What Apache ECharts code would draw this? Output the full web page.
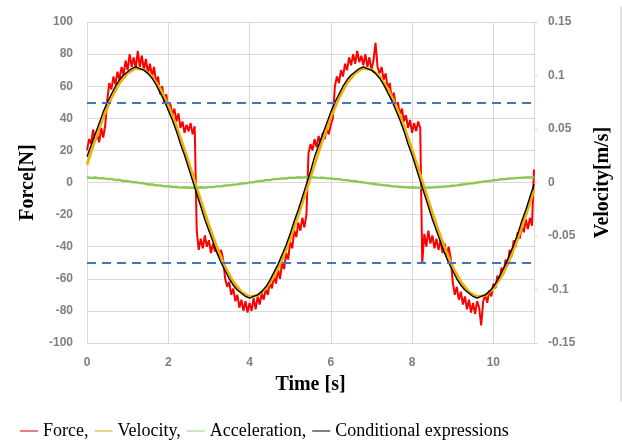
<!DOCTYPE html>
<html>
<head>
<meta charset="utf-8">
<script src="https://cdn.jsdelivr.net/npm/echarts@6/dist/echarts.min.js"></script>
<style>html,body{margin:0;padding:0;background:#fff;}#c{width:622px;height:441px;}</style>
</head>
<body>
<div id="c"></div>
<script>
// ---- data ----
const timeRange = [0, 11];
const xTicks = [0, 2, 4, 6, 8, 10];
const forceTicks = [-100, 100, 20];
const velTicks = [-0.15, 0.15, 0.05];
const thresholds = [50, -50];
const seriesNames = ['Force', 'Velocity', 'Acceleration', 'Conditional expressions'];

// Force [N], sampled every 0.05 s
const force = [
  20, 27, 24, 33, 26, 30, 25, 34, 28, 36,
  52, 62, 58, 66, 61, 69, 64, 72, 67, 76,
  70, 80, 72, 78, 71, 82, 72, 79, 70, 77,
  68, 74, 66, 72, 62, 66, 55, 60, 50, 55,
  45, 49, 42, 46, 38, 43, 34, 38, 31, 36,
  32, 37, 30, 35, -30, -42, -35, -41, -33, -40,
  -36, -44, -38, -43, -40, -46, -42, -48, -60, -65,
  -62, -70, -66, -74, -70, -78, -73, -80, -74, -81,
  -75, -80, -72, -79, -71, -76, -69, -73, -66, -70,
  -62, -66, -58, -63, -54, -60, -50, -54, -44, -48,
  -37, -41, -30, -34, -25, -30, -22, -28, -20, 18,
  24, 20, 27, 22, 29, 24, 31, 27, 34, 30,
  36, 40, 60, 66, 62, 70, 66, 74, 70, 78,
  73, 80, 74, 82, 75, 79, 73, 80, 72, 78,
  70, 76, 87, 72, 68, 72, 64, 68, 58, 62,
  52, 56, 47, 50, 42, 46, 38, 42, 34, 39,
  31, 37, 32, 38, 34, -50, -32, -40, -30, -38,
  -33, -41, -35, -42, -36, -44, -38, -46, -40, -47,
  -62, -70, -65, -73, -68, -76, -71, -79, -73, -81,
  -75, -82, -74, -78, -89, -74, -70, -75, -67, -71,
  -63, -66, -58, -61, -53, -57, -48, -52, -42, -46,
  -36, -40, -31, -35, -27, -31, -23, -29, -22, -27,
  8
];

// Velocity [m/s], sampled every 0.2 s
const velocity = [
  0.0167, 0.0398, 0.0609, 0.0788, 0.0930, 0.1023, 0.1067, 0.1055, 0.0992, 0.0879,
  0.0722, 0.0529, 0.0307, 0.0072, -0.0167, -0.0398, -0.0609, -0.0788, -0.0930, -0.1023,
  -0.1067, -0.1055, -0.0992, -0.0879, -0.0722, -0.0529, -0.0307, -0.0072,
  0.0167, 0.0398, 0.0609, 0.0788, 0.0930, 0.1023, 0.1067, 0.1055, 0.0992, 0.0879,
  0.0722, 0.0529, 0.0307, 0.0072, -0.0167, -0.0398, -0.0609, -0.0788, -0.0930, -0.1023,
  -0.1067, -0.1055, -0.0992, -0.0879, -0.0722, -0.0529, -0.0307, -0.0072
];

// Acceleration (plotted on force scale), sampled every 0.1 s
const acceleration = [
  3.3, 2.9, 3.1, 2.6, 2.7, 2.1, 2.2, 1.6, 1.6, 0.9,
  0.9, 0.3, 0.2, -0.4, -0.5, -1.2, -1.2, -1.8, -1.8, -2.4,
  -2.3, -2.8, -2.7, -3.2, -3.0, -3.3, -3.1, -3.3, -3.0, -3.2,
  -2.8, -2.9, -2.4, -2.4, -1.9, -1.8, -1.3, -1.2, -0.6, -0.5,
  0.1, 0.2, 0.8, 0.9, 1.5, 1.5, 2.1, 2.1, 2.6, 2.5,
  3.0, 2.9, 3.3, 3.0, 3.4, 3.1,
  3.2, 2.9, 3.0, 2.6, 2.6, 2.2, 2.1, 1.6, 1.5, 1.0,
  0.8, 0.3, 0.1, -0.4, -0.6, -1.1, -1.3, -1.7, -1.9, -2.3,
  -2.4, -2.8, -2.8, -3.1, -3.0, -3.3, -3.2, -3.2, -3.1, -3.1,
  -2.8, -2.8, -2.5, -2.3, -2.0, -1.8, -1.4, -1.1, -0.7, -0.5,
  0.0, 0.3, 0.7, 0.9, 1.4, 1.6, 2.0, 2.2, 2.5, 2.6,
  2.9, 3.0, 3.2, 3.1, 3.3
];

// Conditional expressions [N], sampled every 0.1 s
const conditional = [
  16, 23, 30, 37, 44, 50, 55, 60, 64, 67,
  69, 71, 72, 71, 70, 68, 65, 61, 56, 51,
  45, 39, 32, 24, 17, 9, 1, -7, -15, -23,
  -30, -37, -44, -50, -55, -60, -64, -67, -69, -71,
  -72, -71, -70, -68, -65, -61, -56, -51, -45, -39,
  -32, -24, -17, -9, -1, 7,
  16, 23, 30, 37, 44, 50, 55, 60, 64, 67,
  69, 71, 72, 71, 70, 68, 65, 61, 56, 51,
  45, 39, 32, 24, 17, 9, 1, -7, -15, -23,
  -30, -37, -44, -50, -55, -60, -64, -67, -69, -71,
  -72, -71, -70, -68, -65, -61, -56, -51, -45, -39,
  -32, -24, -17, -9, -1
];

// ---- build ----
function withTime(arr) {
  const step = (timeRange[1] - timeRange[0]) / (arr.length - 1);
  return arr.map((v, i) => [+(timeRange[0] + i * step).toFixed(4), v]);
}

const colors = ['#ff0000', '#f0b000', '#8cc850', '#000000'];
const legendColors = ['#f47a7a', '#f3d58a', '#c9e8b2', '#808080'];
const gridColor = '#d9d9d9';
const labelStyle = { color: '#7f7f7f', fontFamily: 'Liberation Sans', fontWeight: 'bold', fontSize: 12 };
const nameStyle = { color: '#000', fontFamily: 'Liberation Serif', fontWeight: 'bold', fontSize: 20 };

const chart = echarts.init(document.getElementById('c'), null, { renderer: 'canvas' });
chart.setOption({
  animation: false,
  backgroundColor: '#fff',
  grid: { left: 87, right: 88, top: 22, bottom: 98, containLabel: false },
  legend: {
    left: 15, top: 416,
    itemWidth: 18, itemHeight: 2, itemGap: 6,
    icon: 'rect',
    textStyle: { fontFamily: 'Liberation Serif', fontSize: 18, color: '#000', lineHeight: 20 },
    formatter: n => (n === seriesNames[seriesNames.length - 1] ? n : n + ','),
    data: seriesNames.map((n, i) => ({ name: n, itemStyle: { color: legendColors[i] } }))
  },
  xAxis: {
    type: 'value', min: timeRange[0], max: timeRange[1], interval: xTicks[1] - xTicks[0],
    name: 'Time [s]', nameLocation: 'middle', nameGap: 32, nameTextStyle: nameStyle,
    axisLine: { show: false }, axisTick: { show: false },
    axisLabel: Object.assign({ margin: 14, showMaxLabel: false }, labelStyle),
    splitLine: { show: true, lineStyle: { color: gridColor, width: 1 } }
  },
  yAxis: [
    {
      type: 'value', min: forceTicks[0], max: forceTicks[1], interval: forceTicks[2],
      name: 'Force[N]', nameLocation: 'middle', nameGap: 48, nameRotate: 90, nameTextStyle: nameStyle,
      axisLine: { show: false }, axisTick: { show: false },
      axisLabel: Object.assign({ margin: 14 }, labelStyle),
      splitLine: { show: true, lineStyle: { color: gridColor, width: 1 } }
    },
    {
      type: 'value', min: velTicks[0], max: velTicks[1], interval: velTicks[2],
      name: 'Velocity[m/s]', nameLocation: 'middle', nameGap: 59, nameRotate: 90, nameTextStyle: nameStyle,
      axisLine: { show: true, lineStyle: { color: gridColor } },
      axisTick: { show: true, length: 4, lineStyle: { color: gridColor } },
      axisLabel: Object.assign({ margin: 14, formatter: v => String(parseFloat((+v).toFixed(2))) }, labelStyle),
      splitLine: { show: false }
    }
  ],
  graphic: [
    { type: 'line', shape: { x1: 621, y1: 6, x2: 621, y2: 402 }, style: { stroke: '#c8c8c8', lineWidth: 1 } }
  ],
  series: [
    {
      name: seriesNames[0], type: 'line', yAxisIndex: 0, showSymbol: false, symbol: 'none',
      data: withTime(force), lineStyle: { color: colors[0], width: 2 }, itemStyle: { color: colors[0] },
      markLine: {
        silent: true, symbol: 'none', label: { show: false },
        lineStyle: { color: '#4472c4', width: 2, type: [9, 6] },
        data: thresholds.map(v => ({ yAxis: v }))
      },
      z: 2
    },
    {
      name: seriesNames[1], type: 'line', yAxisIndex: 1, showSymbol: false, symbol: 'none',
      data: withTime(velocity), lineStyle: { color: colors[1], width: 2.8 }, itemStyle: { color: colors[1] }, z: 3
    },
    {
      name: seriesNames[2], type: 'line', yAxisIndex: 0, showSymbol: false, symbol: 'none',
      data: withTime(acceleration), lineStyle: { color: colors[2], width: 2.4 }, itemStyle: { color: colors[2] }, z: 3
    },
    {
      name: seriesNames[3], type: 'line', yAxisIndex: 0, showSymbol: false, symbol: 'none',
      data: withTime(conditional), lineStyle: { color: colors[3], width: 1.4 }, itemStyle: { color: colors[3] }, z: 4
    }
  ]
});
</script>
</body>
</html>
